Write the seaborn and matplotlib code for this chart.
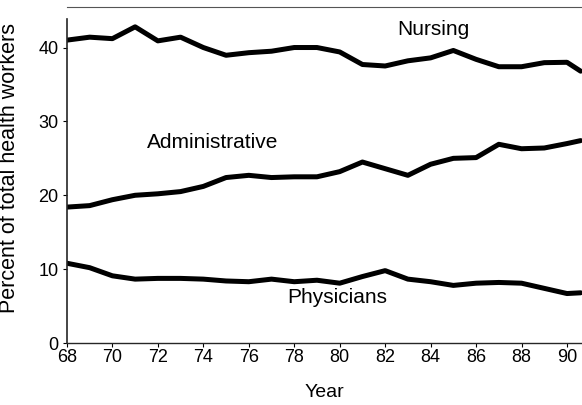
import numpy as np
import pandas as pd
import matplotlib
matplotlib.use("Agg")
import matplotlib.pyplot as plt
import seaborn as sns

# -----------------------------
# Data
# -----------------------------
years = [68, 69, 70, 71, 72, 73, 74, 75, 76, 77, 78, 79,
         80, 81, 82, 83, 84, 85, 86, 87, 88, 89, 90, 90.6]

nursing = [41.0, 41.4, 41.2, 42.8, 40.9, 41.4, 40.0, 38.95, 39.3, 39.5, 40.0, 40.0,
           39.4, 37.7, 37.5, 38.2, 38.6, 39.6, 38.4, 37.4, 37.4, 37.95, 38.0, 36.8]

administrative = [18.4, 18.6, 19.4, 20.0, 20.2, 20.5, 21.2, 22.4, 22.7, 22.4, 22.5, 22.5,
                  23.2, 24.5, 23.6, 22.7, 24.2, 25.0, 25.1, 26.9, 26.3, 26.4, 27.0, 27.4]

physicians = [10.8, 10.2, 9.1, 8.65, 8.75, 8.75, 8.65, 8.4, 8.3, 8.65, 8.3, 8.5,
              8.1, 9.0, 9.8, 8.65, 8.3, 7.8, 8.1, 8.2, 8.1, 7.4, 6.7, 6.8]

series_names = ["Nursing", "Administrative", "Physicians"]

df = pd.DataFrame({
    "Year": years * 3,
    "Percent": nursing + administrative + physicians,
    "Group": np.repeat(series_names, len(years)),
})

# -----------------------------
# Plot
# -----------------------------
sns.set_style("ticks")
plt.rcParams["font.family"] = ["Liberation Sans", "DejaVu Sans"]
plt.rcParams["text.color"] = "black"
plt.rcParams["axes.labelcolor"] = "black"

fig = plt.figure(figsize=(5.82, 4.05), dpi=100)
ax = fig.add_axes([0.115, 0.153, 0.885, 0.83])

sns.lineplot(
    data=df,
    x="Year",
    y="Percent",
    hue="Group",
    palette=["black", "black", "black"],
    linewidth=3.6,
    legend=False,
    ax=ax,
)

ax.set_xlim(68, 90.66)
ax.set_ylim(0, 45.5)
ax.set_xticks(range(68, 91, 2))
ax.set_yticks([0, 10, 20, 30, 40])
ax.tick_params(labelsize=13, length=3, width=0.8, colors="black")
ax.tick_params(axis="x", pad=1)
ax.tick_params(axis="y", pad=3)

ax.spines["right"].set_visible(False)
ax.spines["top"].set_color("#555555")
ax.spines["top"].set_linewidth(0.8)
ax.spines["left"].set_bounds(0, 43.8)
ax.spines["left"].set_linewidth(1.2)
ax.spines["bottom"].set_linewidth(1.0)

ax.set_xlabel("Year", fontsize=14, labelpad=13)
ax.set_ylabel("Percent of total health workers", fontsize=15.5)
ax.yaxis.set_label_coords(-0.092, 0.52)

# series labels
ax.text(84.1, 42.4, "Nursing", fontsize=15, ha="center", va="center")
ax.text(74.4, 27.1, "Administrative", fontsize=15, ha="center", va="center")
ax.text(79.9, 6.1, "Physicians", fontsize=15, ha="center", va="center")

plt.savefig("out.png", dpi=100)
